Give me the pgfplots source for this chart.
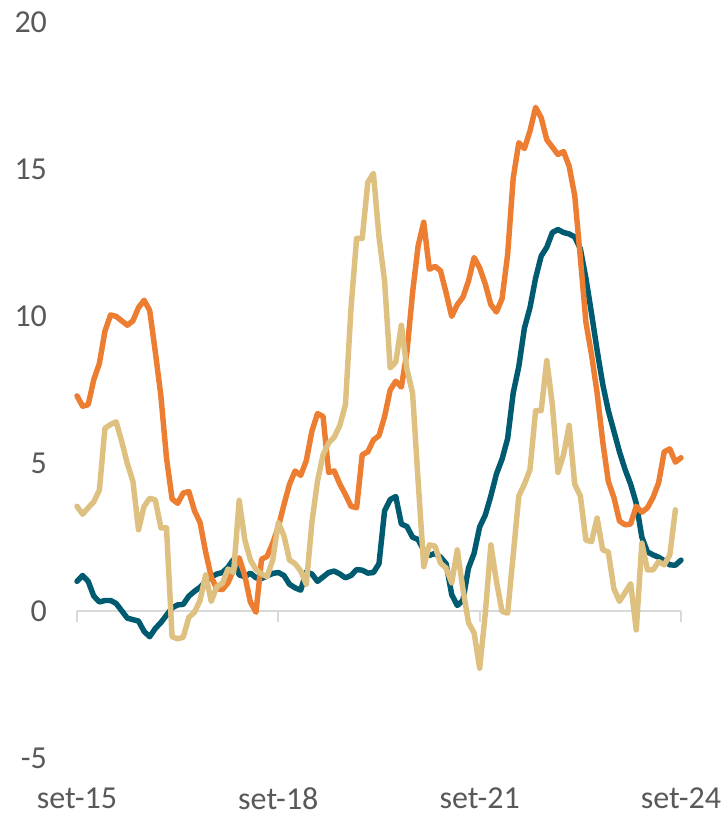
\documentclass[border=0pt]{standalone}
\usepackage{fontspec}
\setmainfont{Carlito}
\usepackage{pgfplots}
\pgfplotsset{compat=1.18}
\usepackage{pgfplotstable}
\definecolor{cteal}{RGB}{0,90,112}
\definecolor{corange}{RGB}{237,125,49}
\definecolor{ctan}{RGB}{222,192,128}
\definecolor{ctext}{RGB}{89,89,89}
\definecolor{cgrid}{RGB}{217,217,217}
\pgfplotstableread{
i teal orange tan
0 1.00 7.30 3.55
1 1.20 6.95 3.28
2 1.00 7.00 3.50
3 0.50 7.85 3.70
4 0.30 8.40 4.10
5 0.35 9.50 6.20
6 0.35 10.05 6.33
7 0.25 10.00 6.42
8 0.00 9.85 5.75
9 -0.25 9.70 5.00
10 -0.30 9.85 4.40
11 -0.35 10.30 2.75
12 -0.70 10.55 3.55
13 -0.88 10.20 3.82
14 -0.60 8.80 3.77
15 -0.40 7.30 2.82
16 -0.15 5.20 2.82
17 0.10 3.80 -0.88
18 0.20 3.65 -0.95
19 0.22 4.00 -0.90
20 0.50 4.05 -0.22
21 0.66 3.40 -0.05
22 0.80 3.00 0.35
23 1.00 2.00 1.22
24 1.15 1.15 0.32
25 1.25 0.75 0.82
26 1.30 0.72 0.93
27 1.48 0.95 1.42
28 1.75 1.40 1.30
29 1.22 1.80 3.75
30 1.16 1.20 2.42
31 1.28 0.30 1.73
32 1.12 -0.05 1.40
33 1.10 1.75 1.25
34 1.18 1.85 1.16
35 1.27 2.30 1.73
36 1.30 2.85 3.00
37 1.20 3.60 2.55
38 0.90 4.30 1.72
39 0.78 4.75 1.60
40 0.70 4.60 1.35
41 1.32 5.10 0.90
42 1.25 6.10 3.00
43 1.00 6.70 4.40
44 1.15 6.60 5.30
45 1.30 4.70 5.70
46 1.35 4.75 5.90
47 1.25 4.30 6.30
48 1.12 3.95 7.00
49 1.20 3.55 10.30
50 1.40 3.50 12.65
51 1.38 5.30 12.65
52 1.28 5.40 14.55
53 1.30 5.80 14.86
54 1.60 5.95 12.70
55 3.40 6.60 11.20
56 3.78 7.50 8.25
57 3.88 7.80 8.45
58 2.95 7.60 9.70
59 2.86 8.80 8.20
60 2.50 10.80 7.40
61 2.42 12.40 4.40
62 2.05 13.20 1.50
63 1.88 11.60 2.24
64 1.95 11.70 2.20
65 1.82 11.55 1.62
66 1.60 10.80 1.45
67 0.55 10.00 0.95
68 0.18 10.40 2.07
69 0.35 10.65 0.75
70 1.45 11.20 -0.40
71 1.95 12.00 -0.75
72 2.85 11.65 -1.95
73 3.25 11.10 -0.10
74 3.90 10.40 2.24
75 4.65 10.15 1.00
76 5.15 10.60 -0.02
77 5.85 12.10 -0.08
78 7.40 14.70 1.90
79 8.30 15.90 3.90
80 9.60 15.70 4.30
81 10.30 16.30 4.80
82 11.30 17.10 6.80
83 12.05 16.75 6.80
84 12.35 16.00 8.50
85 12.85 15.75 7.00
86 12.95 15.50 4.70
87 12.85 15.60 5.30
88 12.80 15.10 6.30
89 12.70 14.10 4.30
90 12.30 12.00 3.90
91 11.30 9.80 2.40
92 10.10 8.70 2.35
93 8.85 7.40 3.15
94 7.70 5.75 2.07
95 6.80 4.40 2.00
96 6.10 3.85 0.75
97 5.40 3.05 0.32
98 4.80 2.92 0.62
99 4.30 2.95 0.92
100 3.65 3.55 -0.65
101 2.50 3.35 2.30
102 2.00 3.50 1.39
103 1.90 3.85 1.39
104 1.82 4.35 1.67
105 1.70 5.40 1.56
106 1.56 5.50 1.90
107 1.55 5.05 3.43
108 1.72 5.20 nan
}\datatable
\begin{document}
\begin{tikzpicture}
\begin{axis}[
  at={(0,0)}, anchor=south west,
  scale only axis, width=453pt, height=552pt,
  xmin=0, xmax=108, ymin=-5, ymax=20,
  axis line style={draw=none},
  major tick length=0pt,
  xtick={0,36,72,108}, xticklabels={set-15,set-18,set-21,set-24},
  ytick={-5,0,5,10,15,20}, yticklabels={-5,0,5,10,15,20},
  ticklabel style={font=\fontsize{24}{28}\selectfont, text=ctext},
  xticklabel style={yshift=-19pt},
  yticklabel style={xshift=-19pt},
  clip=false,
  every axis plot/.append style={line width=4.1pt, line join=round, line cap=round, no markers},
]
\draw[cgrid, line width=1.5pt] (axis cs:0,0) -- (axis cs:108,0);
\draw[cgrid, line width=1.5pt] (axis cs:0,0) -- (axis cs:0,-0.37);
\draw[cgrid, line width=1.5pt] (axis cs:36,0) -- (axis cs:36,-0.37);
\draw[cgrid, line width=1.5pt] (axis cs:72,0) -- (axis cs:72,-0.37);
\draw[cgrid, line width=1.5pt] (axis cs:108,0) -- (axis cs:108,-0.37);
\addplot[cteal] table[x=i,y=teal]{\datatable};
\addplot[corange] table[x=i,y=orange]{\datatable};
\addplot[ctan] table[x=i,y=tan]{\datatable};
\end{axis}
\pgfresetboundingbox
\useasboundingbox (-57.75pt,-42.75pt) rectangle (486pt,568.5pt);
\end{tikzpicture}
\end{document}
